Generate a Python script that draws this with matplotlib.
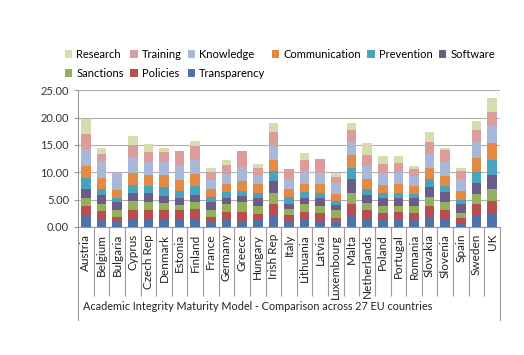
import numpy as np
import matplotlib
matplotlib.use('Agg')
import matplotlib.pyplot as plt

plt.rcParams['font.family'] = ['Lato', 'DejaVu Sans']

countries = ['Austria', 'Belgium', 'Bulgaria', 'Cyprus', 'Czech Rep', 'Denmark', 'Estonia',
             'Finland', 'France', 'Germany', 'Greece', 'Hungary', 'Irish Rep', 'Italy',
             'Lithuania', 'Latvia', 'Luxembourg', 'Malta', 'Netherlands', 'Poland',
             'Portugal', 'Romania', 'Slovakia', 'Slovenia', 'Spain', 'Sweden', 'UK']

# stack order, bottom to top
transparency  = [2.0, 1.3, 0.8, 1.5, 1.4, 1.4, 1.5, 1.5, 0.8, 1.2, 1.0, 1.2, 2.0, 1.0, 1.3, 1.0, 0.8, 2.0, 1.5, 1.2, 1.2, 1.2, 1.8, 1.4, 0.6, 2.0, 2.3]
policies      = [1.8, 1.6, 1.0, 1.5, 1.6, 1.6, 1.5, 1.8, 1.0, 1.5, 1.8, 1.2, 2.2, 1.2, 1.5, 1.5, 0.8, 2.2, 1.6, 1.4, 1.5, 1.4, 2.0, 1.6, 1.0, 2.2, 2.4]
sanctions     = [1.5, 1.2, 1.2, 1.7, 1.5, 1.3, 1.0, 1.2, 1.2, 1.5, 1.8, 1.4, 2.0, 1.0, 1.3, 1.3, 1.4, 2.0, 1.2, 1.2, 1.2, 1.2, 1.6, 1.5, 1.0, 1.8, 2.2]
software      = [1.7, 1.8, 1.5, 1.5, 1.6, 1.4, 1.3, 1.4, 1.5, 1.0, 1.0, 1.4, 2.2, 1.0, 1.2, 1.4, 1.0, 2.5, 1.5, 1.4, 1.3, 1.4, 1.8, 1.8, 1.6, 2.0, 2.6]
prevention    = [2.0, 1.0, 0.8, 1.4, 1.3, 1.6, 1.2, 1.5, 1.0, 1.2, 1.0, 1.0, 1.8, 1.2, 1.0, 1.0, 0.8, 2.0, 1.2, 1.0, 1.0, 0.8, 1.5, 1.2, 0.8, 2.0, 2.8]
communication = [2.2, 2.0, 1.5, 2.2, 2.0, 2.2, 2.0, 2.2, 1.5, 1.5, 1.8, 1.6, 2.0, 1.5, 1.6, 1.6, 1.2, 2.4, 1.8, 1.5, 1.6, 1.5, 2.0, 1.8, 1.6, 2.6, 3.0]
knowledge     = [3.0, 3.2, 3.1, 3.0, 2.5, 2.3, 2.8, 2.6, 1.5, 1.8, 2.5, 1.7, 2.6, 1.7, 2.4, 2.0, 2.0, 2.5, 2.3, 2.1, 2.2, 1.8, 2.6, 2.6, 2.2, 2.9, 3.2]
training      = [2.8, 1.3, 0.0, 2.2, 1.8, 1.8, 2.6, 2.5, 1.5, 1.6, 2.9, 1.2, 2.6, 2.0, 2.0, 2.7, 1.2, 2.2, 2.0, 1.7, 1.6, 1.2, 2.2, 2.2, 1.5, 2.3, 2.5]
research      = [2.8, 1.1, 0.0, 1.6, 1.4, 0.8, 0.0, 1.0, 0.7, 1.0, 0.0, 0.8, 1.6, 0.0, 1.2, 0.0, 0.6, 1.2, 2.2, 1.5, 1.4, 0.6, 1.8, 0.4, 0.5, 1.5, 2.5]

series = [('Transparency', transparency, '#4f72ad'),
          ('Policies', policies, '#b84e50'),
          ('Sanctions', sanctions, '#95b05a'),
          ('Software', software, '#6a5b88'),
          ('Prevention', prevention, '#4aa3bd'),
          ('Communication', communication, '#e48a44'),
          ('Knowledge', knowledge, '#a8b8d8'),
          ('Training', training, '#dc9c9b'),
          ('Research', research, '#d5dcae')]

fig = plt.figure(figsize=(5.24, 3.55), dpi=100)
ax = fig.add_axes([0.149, 0.361, 0.805, 0.385])

x = np.arange(len(countries))
bottom = np.zeros(len(countries))
handles = {}
for name, vals, col in series:
    b = ax.bar(x, vals, 0.62, bottom=bottom, color=col, label=name, zorder=3)
    handles[name] = b
    bottom += np.array(vals)

ax.set_xlim(-0.5, len(countries) - 0.5)
ax.set_ylim(0, 25)
ax.set_yticks(np.arange(0, 26, 5))
ax.set_yticklabels(['%.2f' % v for v in np.arange(0, 26, 5)], fontsize=8, color='#333333')
ax.yaxis.grid(True, color='#b0b0b0', linewidth=0.8, zorder=0)
ax.tick_params(axis='y', length=3, color='#999999')

for s in ['top', 'right']:
    ax.spines[s].set_visible(False)
ax.spines['left'].set_color('#999999')
ax.spines['bottom'].set_color('#999999')

ax.set_xticks(x)
ax.set_xticklabels(countries, rotation=90, fontsize=8.5, color='#222222')
ax.tick_params(axis='x', length=0, pad=5)
ax.set_xticks(np.arange(0.5, len(countries) - 1, 1), minor=True)
ax.tick_params(axis='x', which='minor', length=50, color='#999999', width=0.8)

# outer borders of the category label area
tr = ax.get_xaxis_transform()
for xe in [-0.5, len(countries) - 0.5]:
    ax.plot([xe, xe], [0, -0.68], transform=tr, color='#999999', lw=0.8, clip_on=False)

fig.text(0.158, 0.138, 'Academic Integrity Maturity Model - Comparison across 27 EU countries',
         fontsize=7.8, color='#222222', va='center')

order = ['Research', 'Sanctions', 'Training', 'Policies', 'Knowledge', 'Transparency',
         'Communication', 'Prevention', 'Software']
fig.legend([handles[n] for n in order], order, ncol=6, loc='upper left',
           bbox_to_anchor=(0.115, 0.875), frameon=False, fontsize=8,
           handlelength=0.7, handleheight=0.7, handletextpad=0.35,
           columnspacing=0.55, labelspacing=0.75, borderaxespad=0)

fig.savefig('out.png', dpi=100, facecolor='white')
